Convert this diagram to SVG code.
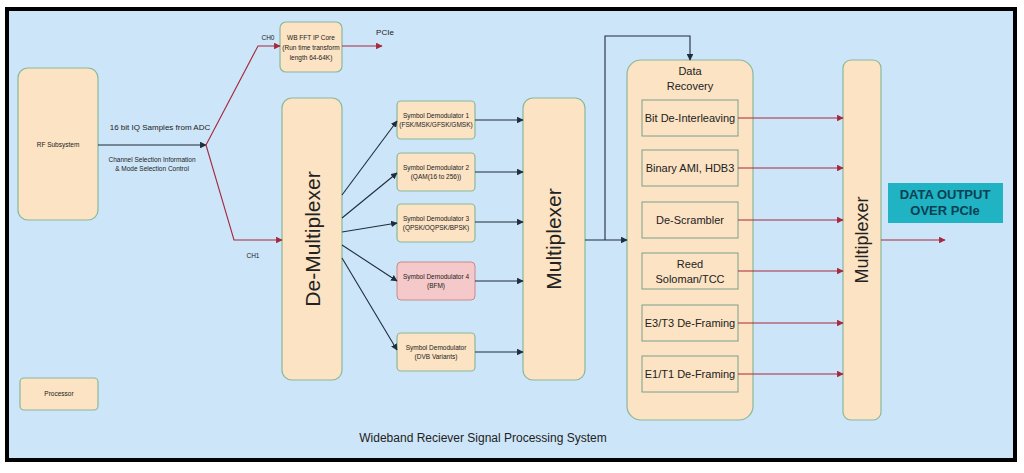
<svg xmlns="http://www.w3.org/2000/svg" width="1024" height="473" viewBox="0 0 1024 473">
<defs>
<marker id="ab" viewBox="0 0 10 10" refX="9" refY="5" markerWidth="6" markerHeight="6" orient="auto"><path d="M0,0L10,5L0,10z" fill="#1f2d3d"/></marker>
<marker id="ar" viewBox="0 0 10 10" refX="9" refY="5" markerWidth="6" markerHeight="6" orient="auto"><path d="M0,0L10,5L0,10z" fill="#a8283c"/></marker>
<style>
.n{fill:#fbe3c3;stroke:#8ab89a;stroke-width:1.2}
.i{fill:#fbe3c3;stroke:#7aa08a;stroke-width:1}
.t{font-family:"Liberation Sans",Arial,sans-serif;fill:#222;text-anchor:middle}
.s{font-size:6.5px}
.m{font-size:11px}
.b{stroke:#1f2d3d;stroke-width:1.1;fill:none;marker-end:url(#ab)}
.r{stroke:#a8283c;stroke-width:1.1;fill:none;marker-end:url(#ar)}
</style>
</defs>
<rect x="0" y="0" width="1024" height="473" fill="#fff"/>
<rect x="7" y="9" width="1008" height="451" fill="#cde5f8" stroke="#000" stroke-width="4"/>
<g id="rf"><rect class="n" x="18" y="68" width="80" height="152" rx="10"/><text class="t s" x="58" y="147">RF Subsystem</text></g>
<g id="proc"><rect class="n" x="20" y="378" width="78" height="32" rx="4"/><text class="t s" x="59" y="396">Processor</text></g>
<g id="fft"><rect class="n" x="280" y="22" width="62" height="50" rx="6"/><text class="t s" x="311" y="40">WB FFT IP Core</text><text class="t s" x="311" y="50">(Run time transform</text><text class="t s" x="311" y="60">length 64-64K)</text></g>
<g id="demux"><rect class="n" x="282" y="98" width="60" height="282" rx="10"/><text class="t" font-size="21" transform="translate(320,239) rotate(-90)">De-Multiplexer</text></g>
<g id="sd1"><rect class="n" x="397" y="101" width="78" height="38" rx="4"/><text class="t s" x="436" y="118">Symbol Demodulator 1</text><text class="t s" x="436" y="127">(FSK/MSK/GFSK/GMSK)</text></g>
<g id="sd2"><rect class="n" x="397" y="153" width="78" height="38" rx="4"/><text class="t s" x="436" y="170">Symbol Demodulator 2</text><text class="t s" x="436" y="179">(QAM(16 to 256))</text></g>
<g id="sd3"><rect class="n" x="397" y="204" width="78" height="38" rx="4"/><text class="t s" x="436" y="221">Symbol Demodulator 3</text><text class="t s" x="436" y="230">(QPSK/OQPSK/BPSK)</text></g>
<g id="sd4"><rect x="397" y="262" width="78" height="38" rx="4" fill="#f5c9c9" stroke="#c98a8a"/><text class="t s" x="436" y="279">Symbol Demodulator 4</text><text class="t s" x="436" y="288">(BFM)</text></g>
<g id="sd5"><rect class="n" x="397" y="333" width="78" height="38" rx="4"/><text class="t s" x="436" y="350">Symbol Demodulator</text><text class="t s" x="436" y="359">(DVB Variants)</text></g>
<g id="mux1"><rect class="n" x="523" y="98" width="62" height="282" rx="10"/><text class="t" font-size="21" transform="translate(561,239) rotate(-90)">Multiplexer</text></g>
<g id="dr"><rect class="n" x="627" y="60" width="126" height="360" rx="14"/><text class="t m" x="690" y="75">Data</text><text class="t m" x="690" y="90">Recovery</text>
<rect class="i" x="642" y="100" width="96" height="36"/><text class="t m" x="690" y="122">Bit De-Interleaving</text>
<rect class="i" x="642" y="150" width="96" height="36"/><text class="t m" x="690" y="172">Binary AMI, HDB3</text>
<rect class="i" x="642" y="202" width="96" height="36"/><text class="t m" x="690" y="224">De-Scrambler</text>
<rect class="i" x="642" y="253" width="96" height="36"/><text class="t m" x="690" y="268">Reed</text><text class="t m" x="690" y="283">Soloman/TCC</text>
<rect class="i" x="642" y="305" width="96" height="36"/><text class="t m" x="690" y="327">E3/T3 De-Framing</text>
<rect class="i" x="642" y="356" width="96" height="36"/><text class="t m" x="690" y="378">E1/T1 De-Framing</text></g>
<g id="mux2"><rect class="n" x="843" y="60" width="38" height="360" rx="8"/><text class="t" font-size="18" transform="translate(868,240) rotate(-90)">Multiplexer</text></g>
<g id="out"><rect x="888" y="183" width="115" height="40" fill="#1fb3c4"/><text class="t" x="945" y="199" font-size="13" font-weight="bold" style="fill:#0b3f52">DATA OUTPUT</text><text class="t" x="945" y="215" font-size="13" font-weight="bold" style="fill:#0b3f52">OVER PCIe</text></g>
<g id="connectors">
<path class="b" d="M98,145H206"/>
<path class="r" d="M206,145L258,46H280"/>
<path class="r" d="M206,145L234,240H282"/>
<path class="r" d="M342,46H382"/>
<path class="b" d="M342,195L397,121"/>
<path class="b" d="M342,218L397,173"/>
<path class="b" d="M342,232L397,223"/>
<path class="b" d="M342,245L397,281"/>
<path class="b" d="M342,258L397,350"/>
<path class="b" d="M475,120H523"/><path class="b" d="M475,172H523"/><path class="b" d="M475,222H523"/><path class="b" d="M475,281H523"/><path class="b" d="M475,352H523"/>
<path class="b" d="M585,240H627"/>
<path class="b" d="M605,240V36H690V60"/>
<path class="r" d="M738,118H843"/><path class="r" d="M738,168H843"/><path class="r" d="M738,220H843"/><path class="r" d="M738,271H843"/><path class="r" d="M738,323H843"/><path class="r" d="M738,374H843"/>
<path class="r" d="M881,240H945"/>
</g>
<text class="t" x="160" y="130" font-size="8">16 bit IQ Samples from ADC</text>
<text class="t s" x="152" y="162">Channel Selection Information</text>
<text class="t s" x="152" y="171">&amp; Mode Selection Control</text>
<text class="t s" x="268" y="40">CH0</text>
<text class="t s" x="253" y="258">CH1</text>
<text class="t" x="385" y="35" font-size="8">PCIe</text>
<text class="t" x="483" y="442" font-size="12">Wideband Reciever Signal Processing System</text>
</svg>
